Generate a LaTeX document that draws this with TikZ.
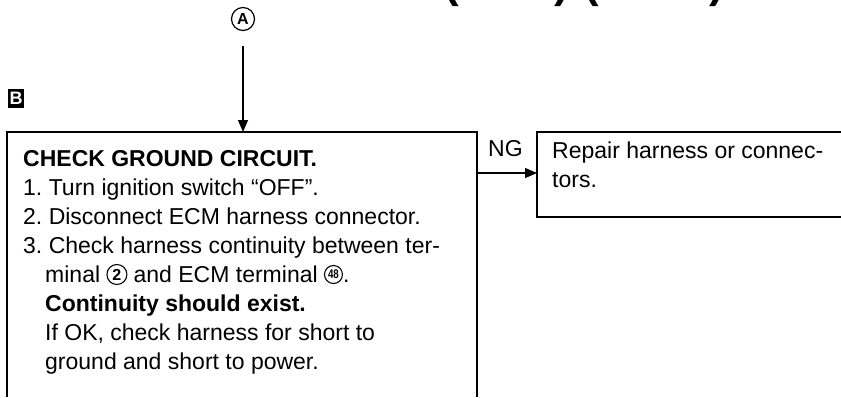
\documentclass[tikz,border=0pt]{standalone}
\usepackage{fontspec}
\setmainfont{Liberation Sans}
\usetikzlibrary{arrows.meta}
\frenchspacing
\tikzset{
  txt/.style={anchor=base west, inner sep=0pt, font=\fontsize{23}{28}\selectfont},
  boldtxt/.style={anchor=base west, inner sep=0pt, font=\fontsize{23}{28}\selectfont\bfseries},
  titlefrag/.style={anchor=south, inner sep=0pt, font=\fontsize{44}{44}\selectfont\bfseries},
  frame/.style={line width=1.4pt},
  conn/.style={line width=1.1pt, -{Triangle[length=12pt,width=10pt]}},
  circmark/.style={circle, draw, line width=1.2pt, inner sep=0pt},
  circnum/.style={circle, draw, line width=1.1pt, inner sep=0pt, minimum size=20pt, anchor=west},
}
\begin{document}
\begin{tikzpicture}[x=1pt,y=-1pt]
\useasboundingbox (0,0) rectangle (841,397);
% cut-off title fragments
\node[titlefrag] (t1) at (452,7) {(};
\node[titlefrag] (t2) at (562,7) {)};
\node[titlefrag] (t3) at (592,7) {(};
\node[titlefrag] (t4) at (717,7) {)};
% entry marker A
\node[circmark, minimum size=23pt, font=\fontsize{16}{16}\selectfont\bfseries] (A) at (243,19) {A};
% step label B
\node[fill=black, text=white, inner sep=0pt, minimum width=16pt, minimum height=19pt,
      font=\fontsize{18}{18}\selectfont\bfseries] (B) at (16,98) {B};
% main box (open at the bottom)
\coordinate (mtop) at (243,132);
\coordinate (mR) at (477,173);
\draw[frame] (7,397) -- (7,132) -- (477,132) -- (477,397);
\draw[conn, shorten <=15pt] (A) -- (mtop);
% text of main box
\node[boldtxt] (l1) at (23,166) {CHECK GROUND CIRCUIT.};
\node[txt] (l2) at (23,195) {1. Turn ignition switch “OFF”.};
\node[txt] (l3) at (23,224) {2. Disconnect ECM harness connector.};
\node[txt] (l4) at (23,253) {3. Check harness continuity between ter-};
\node[txt] (l5a) at (45,282) {minal};
\node[circnum, font=\fontsize{16}{16}\selectfont\bfseries] (c2) at ([xshift=6pt,yshift=7.5pt]l5a.base east) {2};
\node[txt] (l5b) at ([xshift=6pt]c2.east |- l5a.base) {and ECM terminal};
\node[circnum, minimum size=18pt, font=\fontsize{12.5}{12.5}\selectfont\bfseries] (c48) at ([xshift=6pt,yshift=7.5pt]l5b.base east) {\scalebox{0.78}[1]{48}};
\node[txt] (l5c) at (c48.east |- l5a.base) {.};
\node[boldtxt] (l6) at (45,311) {Continuity should exist.};
\node[txt] (l7) at (45,340) {If OK, check harness for short to};
\node[txt] (l8) at (45,369) {ground and short to power.};
% NG branch
\coordinate (rL) at (537,173);
\draw[frame] (841,132) -- (537,132) -- (537,217) -- (841,217);
\draw[conn] (mR) -- (rL);
\node[txt] (ng) at (488,156) {NG};
\node[txt] (r1) at (552,158) {Repair harness or connec-};
\node[txt] (r2) at (552,187) {tors.};
\end{tikzpicture}
\end{document}
